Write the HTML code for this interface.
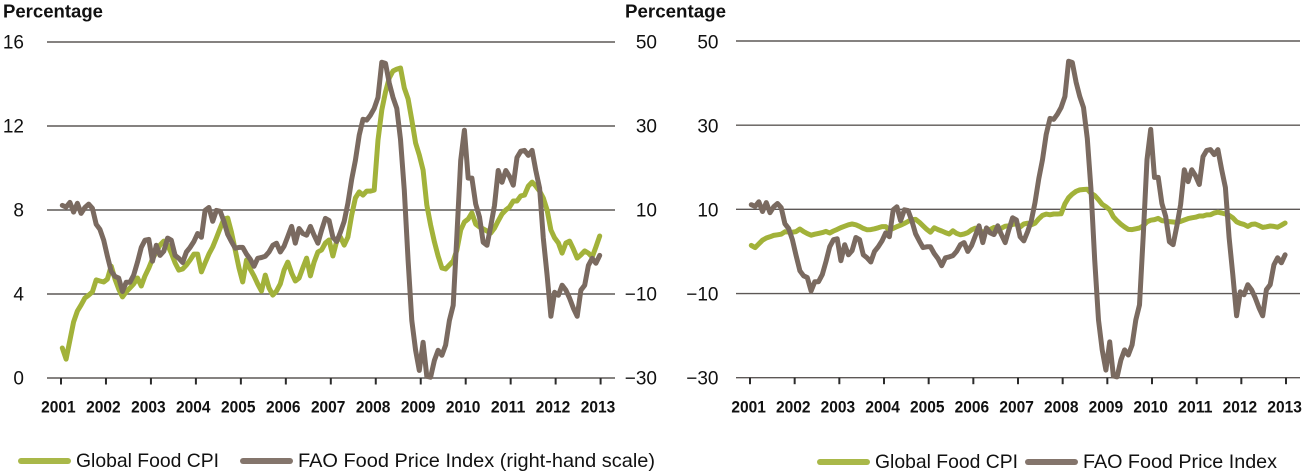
<!DOCTYPE html>
<html lang="en">
<head>
<meta charset="utf-8">
<title>Global Food CPI and FAO Food Price Index</title>
<style>
html,body{margin:0;padding:0;background:#fff;width:1308px;height:476px;overflow:hidden}
svg{display:block}
text{font-family:"Liberation Sans",Arial,sans-serif;fill:#111}
</style>
</head>
<body>
<svg id="chart" xmlns="http://www.w3.org/2000/svg" width="1308" height="476" viewBox="0 0 1308 476"></svg>
<script>
// Data (monthly, 2001 to end-2012)
const years = [2001,2002,2003,2004,2005,2006,2007,2008,2009,2010,2011,2012,2013];
const leftTicks = ["16","12","8","4","0"];
const middleTicks = ["50","30","10","\u221210","\u221230"];
const rightTicks = ["50","30","10","\u221210","\u221230"];
const gridValues = [50,30,10,-10,-30];
const cpiSeries = [
1.43,0.9,1.8,2.67,3.19,3.48,3.81,3.95,4.1,4.67,4.62,4.57,
4.71,5.33,4.71,4.24,3.86,4.1,4.29,4.48,4.76,4.38,4.86,5.24,
5.67,6,6.33,6.52,6.33,5.95,5.48,5.14,5.19,5.38,5.62,5.9,
5.9,5.05,5.48,5.9,6.24,6.67,7.14,7.57,7.62,6.95,6.1,5.24,
4.57,5.62,5.19,4.86,4.48,4.14,4.9,4.29,3.95,4.14,4.48,5.14,
5.52,5,4.62,4.76,5.24,5.71,4.86,5.52,6,6.1,6.43,6.57,
5.81,6.52,6.71,6.33,6.71,7.76,8.57,8.86,8.71,8.9,8.9,8.95,
11.33,12.76,13.62,14.29,14.62,14.71,14.76,13.81,13.29,12.29,11.19,10.62,
9.9,8.24,7.29,6.48,5.81,5.24,5.19,5.38,5.57,6.1,7.05,7.43,
7.57,7.86,7.33,7.19,7.1,7,6.9,7.14,7.48,7.81,8,8.14,
8.43,8.43,8.67,8.71,9.14,9.33,9.14,8.9,8.57,8,7.05,6.67,
6.43,5.95,6.43,6.52,6.14,5.71,5.86,6.05,5.95,5.76,6.24,6.76];
const faoSeries = [
11.1,10.7,11.8,9.5,11.6,9.2,10.6,11.4,10.4,6.6,5.4,2.8,
-1,-4.6,-5.8,-6.2,-9.4,-7.2,-7.2,-5.5,-2.4,1.1,2.8,3,
-2.2,1.6,-0.8,0.2,3.3,2.8,-0.8,-1.5,-2.5,0,1.1,2.5,
4.4,3.5,9.9,10.6,7.3,9.9,9.7,7.3,4.2,2.5,0.9,1.1,
1.1,-0.5,-1.7,-3.4,-1.5,-1.3,-1,0,1.6,2.1,0,1.4,
3.7,6.1,2.1,5.6,4.4,4,6.1,4,2.1,5.2,8,7.5,
3.5,2.5,4.7,7.3,11.6,17.3,21.8,27.8,31.6,31.4,32.6,34.2,
36.8,45.2,44.9,40.2,36.8,34.2,26.8,14.7,-2,-16.3,-23.4,-28.2,
-21.5,-29.6,-29.8,-25.8,-23.4,-24.6,-22.2,-16.3,-12.7,4,21.8,29,
17.6,17.6,11.4,8.3,2.3,1.6,6.1,11.1,19.4,16.6,19.4,18,
15.9,22.5,24,24.2,23,24.2,19.4,15.2,3.3,-5.5,-15.3,-9.6,
-10.3,-7.9,-9.1,-11,-13.4,-15.3,-9.1,-7.9,-3.2,-1.5,-2.7,-0.8];

const NS = "http://www.w3.org/2000/svg";
const svg = document.getElementById("chart");
const GRID = "#5d5856", GREEN = "#a2b23a", BROWN = "#7a6a60";

function make(tag, attrs, parent, txt) {
  const el = document.createElementNS(NS, tag);
  for (const k in attrs) el.setAttribute(k, attrs[k]);
  if (txt !== undefined) el.textContent = txt;
  (parent || svg).appendChild(el);
  return el;
}

// Axis scale factories
function linear(d0, d1, r0, r1) {
  return v => r0 + (v - d0) * (r1 - r0) / (d1 - d0);
}
// Position of a month index on the time axis
function monthTime(i) {
  return 2001.03 + i * 11.95 / 143;
}

function drawLine(xScale, yScale, values, color, name, parent) {
  const d = values.map((v, i) => (i ? "L" : "M") + xScale(monthTime(i)).toFixed(1) + " " + yScale(v).toFixed(1)).join(" ");
  const p = make("path", {d: d, fill: "none", stroke: color, "stroke-width": 5, "stroke-linejoin": "round", "stroke-linecap": "round"}, parent);
  
  
}

function drawLegendKey(x1, x2, y, color, name) {
  const l = make("line", {x1: x1, x2: x2, y1: y, y2: y, stroke: color, "stroke-width": 6, "stroke-linecap": "round", opacity: 0.92});
  
  
}

function drawLabel(x, y, s, size, weight, anchor, len, name) {
  const attrs = {x: x, y: y, "font-size": size, "font-weight": weight, "text-anchor": anchor};
  if (len) { attrs.textLength = len; attrs.lengthAdjust = "spacingAndGlyphs"; }
  const t = make("text", attrs, svg, s);
  
  
}

function drawChart(cfg) {
  const x = linear(2001, 2013, cfg.tick0, cfg.tick1);
  const yPct = linear(-30, 50, cfg.yBottom, cfg.yTop);
  const g = make("g", {});
  
  

  gridValues.forEach(v => {
    const ln = make("line", {x1: cfg.left, x2: cfg.right, y1: yPct(v), y2: yPct(v), stroke: GRID, "stroke-width": 1.4}, g);
    
    
  });
  years.forEach(yr => {
    const tk = make("line", {x1: x(yr), x2: x(yr), y1: cfg.yBottom, y2: cfg.yBottom + 6.5, stroke: "#2b2b2b", "stroke-width": 2}, g);
    
    
    const lb = make("text", {x: x(yr) + cfg.labelShift, y: 412.5, "font-size": 17, "font-weight": 700, "text-anchor": "middle", textLength: 34.5, lengthAdjust: "spacingAndGlyphs"}, g, String(yr));
    
    
  });
  const yCpi = cfg.cpiOnLeftScale ? linear(0, 16, cfg.yBottom, cfg.yTop) : yPct;
  drawLine(x, yCpi, cpiSeries, GREEN, 'global-food-cpi-line', g);
  drawLine(x, yPct, faoSeries, BROWN, 'fao-food-price-index-line', g);
}

drawChart({name: 'left-chart', tick0: 61, tick1: 600.6, left: 47, right: 615, yTop: 42, yBottom: 378, labelShift: -2.6, cpiOnLeftScale: true});
drawChart({name: 'right-chart', tick0: 750, tick1: 1286, left: 736, right: 1300, yTop: 41, yBottom: 377.7, labelShift: -1.4, cpiOnLeftScale: false});

// Axis titles
drawLabel(3, 17.7, "Percentage", 18.5, 700, "start", 100, 'left-axis-title');
drawLabel(625, 17.7, "Percentage", 18.5, 700, "start", 101, 'right-axis-title');

// Tick labels printed on each vertical axis
const tickBase = linear(0, 4, 48.6, 384.3);
leftTicks.forEach((s, i) => drawLabel(24, tickBase(i), s, 19, 400, "end", 0, 'left-y-tick-label'));
middleTicks.forEach((s, i) => drawLabel(657, tickBase(i), s, 19, 400, "end", 0, 'middle-y-tick-label'));
rightTicks.forEach((s, i) => drawLabel(718.5, tickBase(i), s, 19, 400, "end", 0, 'right-y-tick-label'));

// Legends
drawLegendKey(21, 68, 461, GREEN, 'legend-key-cpi-left');
drawLabel(76, 467, "Global Food CPI", 19.5, 400, "start", 143, 'legend-label-cpi-left');
drawLegendKey(243, 290, 461, BROWN, 'legend-key-fao-left');
drawLabel(298, 467, "FAO Food Price Index (right-hand scale)", 19.5, 400, "start", 357, 'legend-label-fao-left');
drawLegendKey(820, 867, 462, GREEN, 'legend-key-cpi-right');
drawLabel(875, 468, "Global Food CPI", 19.5, 400, "start", 143, 'legend-label-cpi-right');
drawLegendKey(1028, 1075, 462, BROWN, 'legend-key-fao-right');
drawLabel(1083, 468, "FAO Food Price Index", 19.5, 400, "start", 194, 'legend-label-fao-right');
</script>
</body>
</html>
